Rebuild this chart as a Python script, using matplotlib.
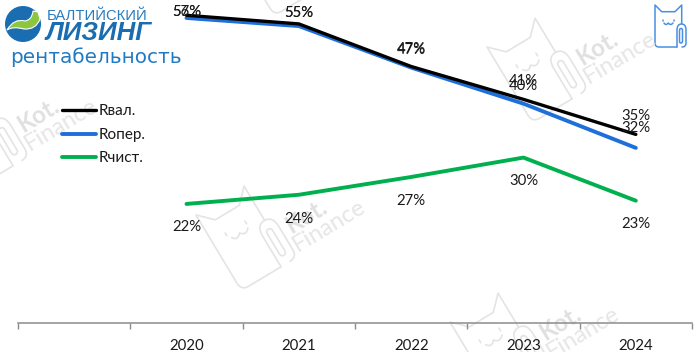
import numpy as np
import matplotlib
matplotlib.use("Agg")
import matplotlib.pyplot as plt
from matplotlib.patches import FancyBboxPatch, Circle, PathPatch
from matplotlib.path import Path
from matplotlib.transforms import Affine2D

plt.rcParams['font.family'] = ['Lato', 'DejaVu Sans']

categories = ['', '2020', '2021', '2022', '2023', '2024']
r_val = [np.nan, 57.0, 55.4, 47.5, 41.4, 34.9]
r_oper = [np.nan, 56.5, 55.0, 47.3, 40.6, 32.4]
r_net = [np.nan, 22.0, 23.7, 27.0, 30.6, 22.6]
lab_val = ['', '57%', '55%', '47%', '41%', '35%']
lab_oper = ['', '56%', '55%', '47%', '40%', '32%']
lab_net = ['', '22%', '24%', '27%', '30%', '23%']
off_val = [0, 3.3, 10.8, 17.3, 18.3, 18.3]
off_oper = [0, 6.3, 13.3, 17.8, 17.3, 19.8]
off_net = [0, -23.2, -24.7, -23.7, -23.7, -23.7]
names = ['Rвал.', 'Rопер.', 'Rчист.']
colors = ['#000000', '#1F6FDB', '#00B04F']
widths = [2.4, 2.8, 2.8]

fig = plt.figure(figsize=(7, 3.52), dpi=100)
bg = fig.add_axes([0, 0, 1, 1], zorder=0)
bg.set_xlim(0, 700)
bg.set_ylim(352, 0)
bg.axis('off')


def draw_cat(axb, ox, oy, scale, angle, color, lw):
    tr = Affine2D().scale(scale).rotate_deg(angle).translate(ox, oy) + axb.transData
    kw = dict(fill=False, edgecolor=color, linewidth=lw, transform=tr, clip_on=True,
              capstyle='round', joinstyle='round')
    body = Path([(22, 42), (4, 42), (0, 42), (0, 38), (0, 0), (6.7, 6.7), (20, 6.7), (26.7, 0), (26.7, 19)],
                [Path.MOVETO, Path.LINETO, Path.CURVE3, Path.CURVE3, Path.LINETO,
                 Path.LINETO, Path.LINETO, Path.LINETO, Path.LINETO])
    axb.add_patch(PathPatch(body, **kw))
    axb.add_patch(FancyBboxPatch((24.5, 23.5), 3, 14.5, boxstyle='round,pad=0,rounding_size=1.5', **kw))
    clip = Path([(22, 42), (22, 25), (22, 19), (26.5, 19), (31, 19), (31, 25), (31, 38), (31, 42), (27, 42)],
                [Path.MOVETO, Path.LINETO, Path.CURVE3, Path.CURVE3, Path.CURVE3, Path.CURVE3,
                 Path.LINETO, Path.CURVE3, Path.CURVE3])
    axb.add_patch(PathPatch(clip, **kw))
    for ex in (7.5, 18.5):
        axb.add_patch(PathPatch(Path([(ex, 14.5), (ex, 16)]), **kw))
    smile = Path([(9, 18), (11, 21), (13.3, 18), (15.6, 21), (18, 18)],
                 [Path.MOVETO, Path.CURVE3, Path.CURVE3, Path.CURVE3, Path.CURVE3])
    axb.add_patch(PathPatch(smile, **kw))


# watermark tiles: origin of the left ear on screen, and whether the wordmark shows
tiles = [(487, 47, True), (196, 215, True), (-72, 114, True), (450, 322, True), (229, -60, False)]
wm_color = '#E4E4E4'
for ox, oy, words in tiles:
    draw_cat(bg, ox, oy, 2.1, -31, wm_color, 1.2)
    if words:
        bg.text(ox + 110, oy + 1, 'Kot.', fontsize=17, fontweight='bold', color='#E0E0E0',
                rotation=31, ha='center', va='center', rotation_mode='anchor')
        bg.text(ox + 133, oy + 11, 'Finance', fontsize=17, color='#E6E6E6',
                rotation=31, ha='center', va='center', rotation_mode='anchor')

# corner icon
draw_cat(bg, 655, 5, 1.0, 0, '#4A90E2', 1.1)

# logo
bg.add_patch(Circle((23, 24), 18, facecolor='#1B6DB2', edgecolor='none'))
swoosh = Path([(7, 30), (14, 18), (25, 21), (32, 20), (33, 11), (38, 12), (40, 19), (36, 30), (24, 29),
               (13, 26), (7, 30)],
              [Path.MOVETO, Path.CURVE3, Path.CURVE3, Path.CURVE3, Path.CURVE3, Path.LINETO, Path.LINETO,
               Path.CURVE3, Path.CURVE3, Path.CURVE3, Path.CURVE3])
bg.add_patch(PathPatch(swoosh, facecolor='#8CC63F', edgecolor='white', linewidth=0.8))
bg.text(47, 15.5, 'БАЛТИЙСКИЙ', fontsize=10.6, color='#2A7DBD', family='Liberation Sans',
        ha='left', va='center')
bg.text(46, 32.5, 'ЛИЗИНГ', fontsize=18.6, color='#1B6DB2', family='Liberation Sans', fontweight='bold',
        style='italic', ha='left', va='center')
bg.text(10.5, 57.5, 'рентабельность', fontsize=14.4, color='#1F7AC4', family='DejaVu Sans',
        ha='left', va='center')

# main chart
ax = fig.add_axes([18 / 700, 1 - 322.5 / 352, 674 / 700, 321.5 / 352], zorder=2)
ax.patch.set_alpha(0)
x = np.arange(len(categories))
h_net, = ax.plot(x, r_net, color=colors[2], lw=widths[2], label=names[2], solid_capstyle='round', clip_on=False)
h_oper, = ax.plot(x, r_oper, color=colors[1], lw=widths[1], label=names[1], solid_capstyle='round', clip_on=False)
h_val, = ax.plot(x, r_val, color=colors[0], lw=widths[0], label=names[0], solid_capstyle='round', clip_on=False)

for vals, labs, offs in [(r_val, lab_val, off_val), (r_oper, lab_oper, off_oper), (r_net, lab_net, off_net)]:
    for xi, v, lab, o in zip(x, vals, labs, offs):
        if lab:
            ax.annotate(lab, (xi, v), xytext=(0, o * 0.72), textcoords='offset points',
                        ha='center', va='center', fontsize=10.7, color='#1A1A1A', annotation_clip=False)

ax.set_xlim(-0.5, 5.5)
ax.set_ylim(0, 59.65)
ax.set_yticks([])
ax.set_xticks(x)
ax.set_xticklabels(categories, fontsize=10.8, color='#1A1A1A')
ax.tick_params(axis='x', which='major', length=0, pad=12)
ax.set_xticks(np.arange(-0.5, 6), minor=True)
ax.tick_params(axis='x', which='minor', length=4, width=1, color='#8C8C8C', direction='out')
for s in ('top', 'left', 'right'):
    ax.spines[s].set_visible(False)
ax.spines['bottom'].set_color('#8C8C8C')
ax.spines['bottom'].set_linewidth(1.1)

ax.legend(handles=[h_val, h_oper, h_net], loc='upper left', bbox_to_anchor=((62 - 18) / 674, 1 - (104.5 - 1) / 321.5),
          frameon=False, fontsize=11, handlelength=2.2, handletextpad=0.2, labelspacing=0.62,
          borderpad=0, borderaxespad=0, labelcolor='#1A1A1A')

fig.savefig('out.png', dpi=100)
